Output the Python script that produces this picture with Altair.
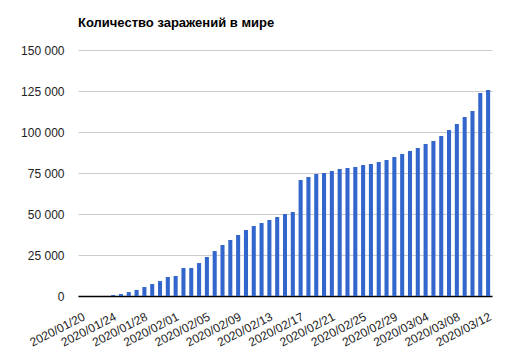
import altair as alt
import pandas as pd

dates = [d.strftime("%Y/%m/%d") for d in pd.date_range("2020-01-20", "2020-03-12", freq="D")]
cases = [
    0, 0, 0, 0, 600, 1200, 2400, 3700, 5500, 7300,
    9100, 11600, 12200, 17100, 17100, 20100, 23800, 27400, 31100, 34150,
    37200, 40240, 42680, 44510, 46340, 48170, 50000, 51220, 70730, 72560,
    74390, 75000, 76220, 77440, 78050, 78660, 79880, 80490, 81710, 82930,
    84760, 86590, 88410, 90240, 92680, 94510, 97560, 101220, 104880, 109150,
    112800, 123780, 125610,
]
y_ticks = [0, 25000, 50000, 75000, 100000, 125000, 150000]
x_labels = dates[::4]

df = pd.DataFrame({"date": dates, "cases": cases})

FONT = "Liberation Sans"

chart = alt.Chart(df).mark_bar(color="#3366cc").encode(
    x=alt.X(
        "date:N",
        sort=dates,
        title=None,
        scale=alt.Scale(paddingInner=0.48, paddingOuter=0.24),
        axis=alt.Axis(
            values=x_labels,
            labelAngle=-27,
            labelAlign="right",
            labelBaseline="top",
            labelPadding=15,
            ticks=False,
            domainColor="#000000",
            domainWidth=1.5,
            labelFont=FONT,
            labelFontSize=12,
            labelColor="#222222",
            grid=False,
        ),
    ),
    y=alt.Y(
        "cases:Q",
        title=None,
        scale=alt.Scale(domain=[0, 150000], nice=False),
        axis=alt.Axis(
            values=y_ticks,
            labelExpr="replace(format(datum.value, ','), ',', ' ')",
            domain=False,
            ticks=False,
            labelPadding=14,
            labelFont=FONT,
            labelFontSize=12,
            labelColor="#222222",
            gridColor="#cccccc",
            gridWidth=1,
        ),
    ),
).properties(
    width=414,
    height=246,
    title=alt.TitleParams(
        "Количество заражений в мире",
        anchor="start",
        frame="group",
        font=FONT,
        fontSize=13,
        fontWeight="bold",
        color="#000000",
        offset=14,
    ),
    autosize=alt.AutoSizeParams(type="none"),
    padding={"left": 70, "top": 42, "right": 20, "bottom": 60},
).configure_view(stroke=None)

chart.save("out.html", embed_options={"renderer": "svg", "actions": False})
